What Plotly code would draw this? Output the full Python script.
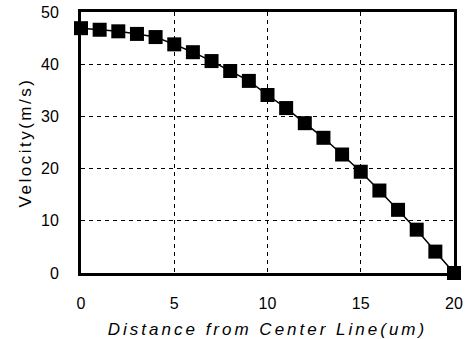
import plotly.graph_objects as go

distance = [0, 1, 2, 3, 4, 5, 6, 7, 8, 9, 10, 11, 12, 13, 14, 15, 16, 17, 18, 19, 20]
velocity = [46.9, 46.6, 46.3, 45.8, 45.2, 43.8, 42.3, 40.6, 38.7, 36.8, 34.1,
            31.6, 28.7, 25.9, 22.7, 19.4, 15.8, 12.1, 8.3, 4.1, 0.0]
x_ticks = [0, 5, 10, 15, 20]
y_ticks = [0, 10, 20, 30, 40, 50]

fig = go.Figure()
fig.add_trace(go.Scatter(
    x=distance, y=velocity, mode="lines+markers",
    line=dict(color="black", width=1.5),
    marker=dict(symbol="square", size=14, color="black"),
    cliponaxis=False, showlegend=False,
))

font = "Liberation Sans, Arial, sans-serif"
axis_common = dict(
    showline=True, mirror=True, linecolor="black", linewidth=3,
    showgrid=True, gridcolor="black", gridwidth=1, griddash="4px,4px",
    zeroline=False, ticks="", automargin=False,
    tickfont=dict(family=font, size=16, color="black"),
)
fig.update_xaxes(range=[0, 20], tickvals=x_ticks, ticklabelstandoff=14,
                 title=dict(text="Distance from Center Line(um)",
                            font=dict(family=font, size=17, color="black", style="italic"),
                            standoff=14),
                 **axis_common)
fig.update_yaxes(range=[0, 50], tickvals=y_ticks, ticklabelstandoff=16,
                 title=dict(text="Velocity(m/s)",
                            font=dict(family=font, size=17, color="black"),
                            standoff=6),
                 **axis_common)
fig.update_layout(
    width=466, height=339,
    margin=dict(l=81, r=12, t=12, b=66),
    plot_bgcolor="white", paper_bgcolor="white",
)
post = (
    "document.body.style.margin='0';document.body.style.overflow='hidden';"
    "document.querySelectorAll('.xtitle').forEach(function(e){e.style.letterSpacing='3px';});"
    "document.querySelectorAll('.ytitle').forEach(function(e){e.style.letterSpacing='2.5px';});"
)
fig.write_html("out.html", post_script=post, config={"displayModeBar": False})
